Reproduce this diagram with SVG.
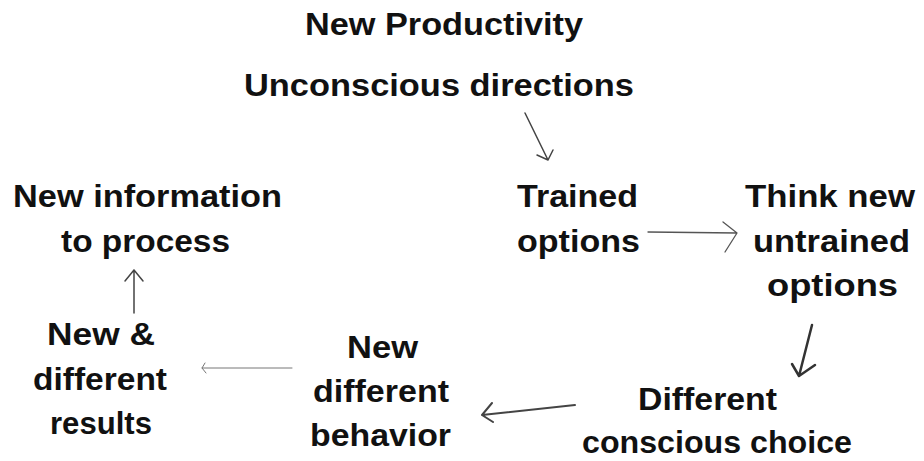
<svg xmlns="http://www.w3.org/2000/svg" width="924" height="461" viewBox="0 0 924 461">
<style>
text{font-family:"Liberation Sans",Arial,sans-serif;font-weight:bold;font-size:31px;fill:#111}
.a{fill:none;stroke-linecap:round;stroke-linejoin:round}
</style>
<rect width="924" height="461" fill="#fff"/>
<g id="title">
<text x="305" y="35" textLength="278" lengthAdjust="spacingAndGlyphs">New Productivity</text>
</g>
<g id="n-unconscious">
<text x="244" y="96" textLength="390" lengthAdjust="spacingAndGlyphs">Unconscious directions</text>
</g>
<g id="n-trained">
<text x="517" y="207" textLength="121" lengthAdjust="spacingAndGlyphs">Trained</text>
<text x="517" y="252" textLength="123" lengthAdjust="spacingAndGlyphs">options</text>
</g>
<g id="n-think">
<text x="745" y="207" textLength="170" lengthAdjust="spacingAndGlyphs">Think new</text>
<text x="753" y="252" textLength="157" lengthAdjust="spacingAndGlyphs">untrained</text>
<text x="767" y="296" textLength="131" lengthAdjust="spacingAndGlyphs">options</text>
</g>
<g id="n-choice">
<text x="638" y="410" textLength="139" lengthAdjust="spacingAndGlyphs">Different</text>
<text x="582" y="453" textLength="270" lengthAdjust="spacingAndGlyphs">conscious choice</text>
</g>
<g id="n-behavior">
<text x="347" y="358" textLength="71" lengthAdjust="spacingAndGlyphs">New</text>
<text x="313" y="402" textLength="136" lengthAdjust="spacingAndGlyphs">different</text>
<text x="310" y="446" textLength="141" lengthAdjust="spacingAndGlyphs">behavior</text>
</g>
<g id="n-results">
<text x="47" y="345" textLength="108" lengthAdjust="spacingAndGlyphs">New &amp;</text>
<text x="33" y="390" textLength="134" lengthAdjust="spacingAndGlyphs">different</text>
<text x="50" y="434" textLength="102" lengthAdjust="spacingAndGlyphs">results</text>
</g>
<g id="n-info">
<text x="13" y="207" textLength="269" lengthAdjust="spacingAndGlyphs">New information</text>
<text x="61" y="252" textLength="169" lengthAdjust="spacingAndGlyphs">to process</text>
</g>
<g id="connectors">
<path class="a" stroke="#444" stroke-width="1.5" d="M525,113 L548,160 M537,155 L548,160 L553,150"/>
<path class="a" stroke="#555" stroke-width="1.3" d="M648,232 L737,233 M723,222 L737,233 L725,252"/>
<path class="a" stroke="#333" stroke-width="2.5" d="M812,325 L799,376 M792,364 L799,376 L815,365"/>
<path class="a" stroke="#444" stroke-width="2" d="M575,405 L482,415 M492,403 L482,415 L493,422"/>
<path class="a" stroke="#777" stroke-width="1" d="M292,368 L202,368 M205,363 L202,368 L206,373"/>
<path class="a" stroke="#444" stroke-width="1.5" d="M134,313 L134,270 M125,281 L134,270 L143,281"/>
</g>
</svg>
